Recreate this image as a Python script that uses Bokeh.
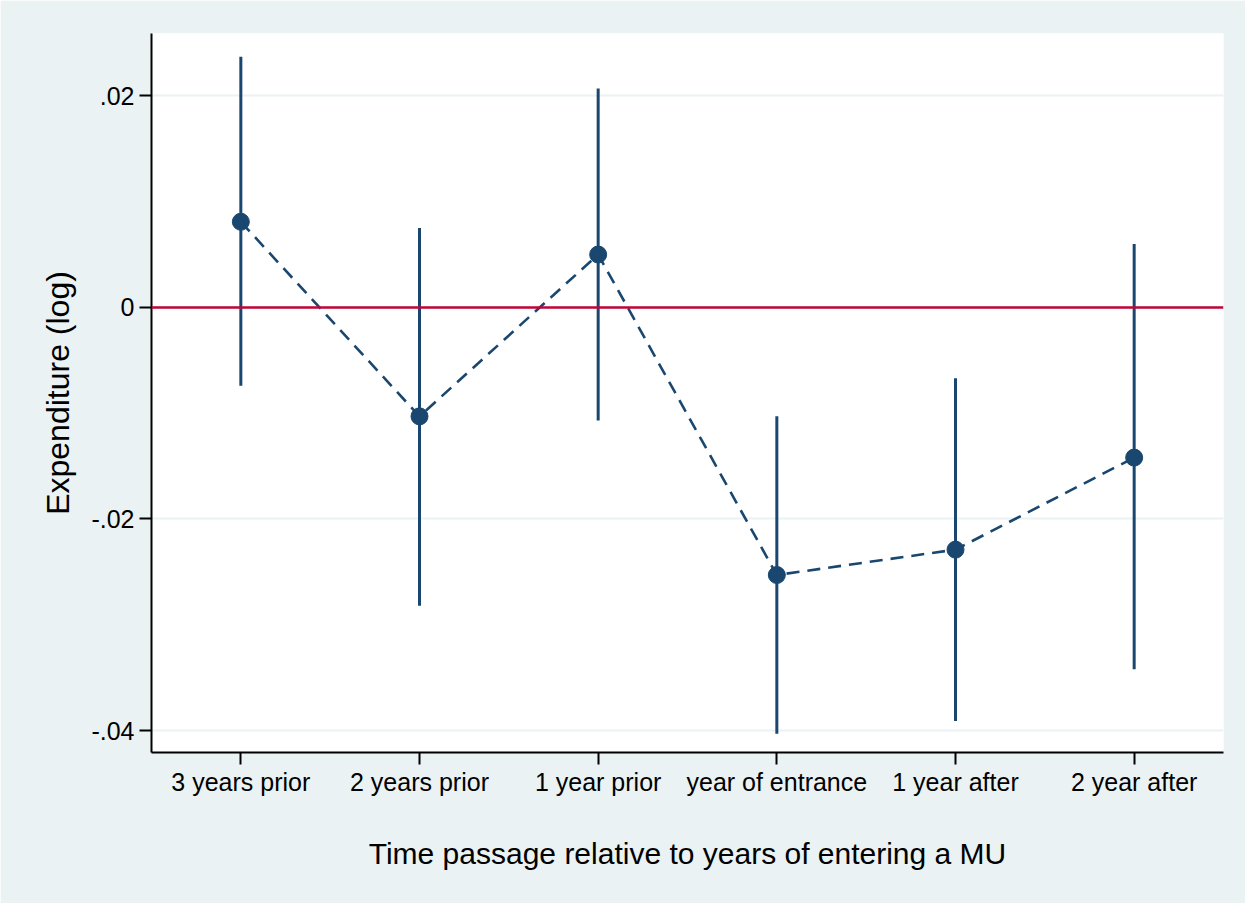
from bokeh.plotting import figure
from bokeh.models import ColumnDataSource, FixedTicker, Span
from bokeh.embed import file_html
from bokeh.resources import INLINE

categories = ["3 years prior", "2 years prior", "1 year prior",
              "year of entrance", "1 year after", "2 year after"]
positions = [1, 2, 3, 4, 5, 6]
estimate = [0.0081, -0.0103, 0.0050, -0.0253, -0.0229, -0.0142]
ci_upper = [0.0237, 0.0075, 0.0207, -0.0103, -0.0067, 0.0060]
ci_lower = [-0.0074, -0.0282, -0.0107, -0.0403, -0.0391, -0.0342]
y_ticks = [-0.04, -0.02, 0.0, 0.02]
y_tick_labels = ["-.04", "-.02", "0", ".02"]

navy = "#1a476f"
bg = "#eaf2f3"
font = "Liberation Sans"

src = ColumnDataSource(dict(x=positions, y=estimate, lo=ci_lower, hi=ci_upper))

p = figure(width=1245, height=903, output_backend="svg", toolbar_location=None,
           x_range=(0.5, 6.5), y_range=(-0.04208, 0.0259),
           min_border_left=151, min_border_right=22, min_border_top=33,
           min_border_bottom=151)
p.background_fill_color = "white"
p.border_fill_color = bg
p.outline_line_color = None

p.segment(x0="x", y0="lo", x1="x", y1="hi", source=src, line_color=navy, line_width=3)
p.line(x="x", y="y", source=src, line_color=navy, line_width=2.6, line_dash="13 8")
p.add_layout(Span(location=0, dimension="width", line_color="#c10534", line_width=2.5))
p.scatter(x="x", y="y", source=src, size=17, fill_color=navy, line_color=navy)

# axes
p.xaxis.ticker = FixedTicker(ticks=positions)
p.xaxis.major_label_overrides = {pos: lab for pos, lab in zip(positions, categories)}
p.yaxis.ticker = FixedTicker(ticks=y_ticks)
p.yaxis.major_label_overrides = {t: l for t, l in zip(y_ticks, y_tick_labels)}

for ax in (p.xaxis[0], p.yaxis[0]):
    ax.axis_line_color = "black"
    ax.axis_line_width = 2
    ax.major_tick_line_color = "black"
    ax.major_tick_line_width = 2
    ax.major_tick_out = 12
    ax.major_tick_in = 0
    ax.minor_tick_line_color = None
    ax.major_label_text_font = font
    ax.major_label_text_font_size = "25px"
    ax.major_label_text_color = "black"
    ax.axis_label_text_font = font
    ax.axis_label_text_font_style = "normal"
    ax.axis_label_text_color = "black"

p.xaxis.major_label_standoff = 3
p.yaxis.major_label_standoff = 5
p.yaxis.major_label_orientation = "horizontal"
p.xaxis.axis_label = "Time passage relative to years of entering a MU"
p.yaxis.axis_label = "Expenditure (log)"
p.xaxis.axis_label_text_font_size = "30px"
p.yaxis.axis_label_text_font_size = "32px"
p.xaxis.axis_label_standoff = 38
p.yaxis.axis_label_standoff = 12

p.xgrid.grid_line_color = None
p.ygrid.grid_line_color = bg
p.ygrid.grid_line_width = 2
p.ygrid.ticker = FixedTicker(ticks=y_ticks)

open("out.html", "w").write(file_html(p, INLINE))
